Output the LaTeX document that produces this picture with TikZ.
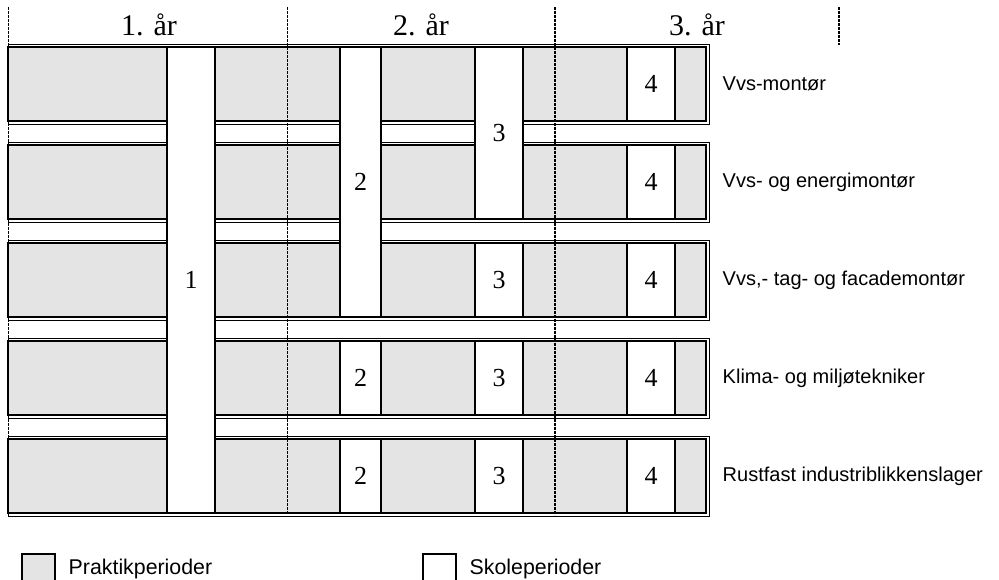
\documentclass[tikz,border=0pt]{standalone}
\usepackage{fontspec}
\setmainfont{Liberation Serif}
\setsansfont{Liberation Sans}
\usepackage{tikz}
\usepackage{xcolor}
\usetikzlibrary{positioning}
\definecolor{PraktikGray}{HTML}{E4E4E4}
\tikzset{
  udrow/.style={draw=black, line width=2.2pt, fill=PraktikGray},
  udrowthin/.style={draw=black, line width=0.7pt},
  udschool/.style={draw=black, line width=1.5pt, fill=white},
  udyear/.style={dashed, dash pattern=on 2pt off 1pt, line width=0.6pt},
  udyearbold/.style={dashed, dash pattern=on 2pt off 1pt, line width=1.1pt},
  udhead/.style={anchor=base, font=\fontsize{22.5}{24}\selectfont},
  udnum/.style={font=\fontsize{19.5}{22}\selectfont},
  udjob/.style={anchor=west, font=\sffamily\fontsize{15}{18}\selectfont},
  udkeytext/.style={anchor=west, font=\sffamily\fontsize{16}{18}\selectfont},
  udkey/.style={draw=black, line width=0.9pt}
}
\begin{document}
\begin{tikzpicture}[x=0.75pt, y=-0.75pt]
  \clip (0,0) rectangle (999,579);
  % rows with practical periods
  \foreach \t in {47,145,243,341,439} {
    \draw[udrowthin] (8,\t-3) rectangle (709,\t+77);
    \draw[udrow] (8,\t) rectangle (706,\t+74);
  }
  % school periods
  \draw[udschool] (167,47) rectangle (215,513);
  \node[udnum] (s1) at (191,280) {1};
  \draw[udschool] (340,47) rectangle (381,317);
  \node[udnum] (s2a) at (360.5,182) {2};
  \draw[udschool] (475,47) rectangle (523,219);
  \node[udnum] (s3a) at (499,133) {3};
  \foreach \t/\n in {341/b,439/c} {
    \draw[udschool] (340,\t) rectangle (381,\t+74);
    \node[udnum] (s2\n) at (360.5,\t+37) {2};
  }
  \foreach \t/\n in {243/b,341/c,439/d} {
    \draw[udschool] (475,\t) rectangle (523,\t+74);
    \node[udnum] (s3\n) at (499,\t+37) {3};
  }
  \foreach \t/\n in {47/a,145/b,243/c,341/d,439/e} {
    \draw[udschool] (627,\t) rectangle (675,\t+74);
    \node[udnum] (s4\n) at (651,\t+37) {4};
  }
  % year borders
  \draw[udyear] (8,7) -- (8,513);
  \draw[udyear] (287,7) -- (287,513);
  \draw[udyearbold] (555,7) -- (555,515);
  \draw[udyearbold] (839,7) -- (839,45);
  \node[udhead] (y1) at (149,35) {1. år};
  \node[udhead] (y2) at (421,35) {2. år};
  \node[udhead] (y3) at (697,35) {3. år};
  % educations
  \node[udjob] (j1) at (718,84) {Vvs-montør};
  \node[udjob] (j2) at (718,182) {Vvs- og energimontør};
  \node[udjob] (j3) at (718,280) {Vvs,- tag- og facademontør};
  \node[udjob] (j4) at (718,378) {Klima- og miljøtekniker};
  \node[udjob] (j5) at (718,476) {Rustfast industriblikkenslager};
  % legend
  \draw[udkey, fill=PraktikGray] (22,554) rectangle (55,595);
  \node[udkeytext] (kp) at (64,569) {Praktikperioder};
  \draw[udkey, fill=white] (423,554) rectangle (456,595);
  \node[udkeytext] (ks) at (465,569) {Skoleperioder};
\end{tikzpicture}
\end{document}
